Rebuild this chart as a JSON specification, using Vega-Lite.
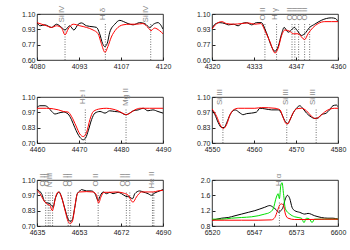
{
"$schema":"https://vega.github.io/schema/vega-lite/v6.json",
"padding":{"left":20,"top":5,"right":0,"bottom":0},
"background":"white",
"config":{
 "view":{"stroke":"black","strokeWidth":0.8},
 "axis":{"grid":false,"title":null,"labelFont":"Liberation Sans","labelFontSize":7,"labelColor":"#222","domain":false,"tickColor":"#222","tickSize":-3,"labelPadding":5,"labelFlush":false,"labelOverlap":false,"labelBound":false,"tickCount":4},
 "text":{"font":"Liberation Sans","fontSize":8,"color":"#888"}
},
"datasets":{
"p1":[
{"w":4080,"f":1.006,"s":"b"},{"w":4081,"f":0.972,"s":"b"},{"w":4082.5,"f":0.982,"s":"b"},{"w":4084.6,"f":0.954,"s":"b"},{"w":4086.2,"f":0.989,"s":"b"},{"w":4087.8,"f":0.954,"s":"b"},{"w":4088.9,"f":0.926,"s":"b"},{"w":4090.4,"f":0.972,"s":"b"},{"w":4091.7,"f":0.926,"s":"b"},{"w":4093.1,"f":0.989,"s":"b"},{"w":4094.1,"f":1.003,"s":"b"},{"w":4095.7,"f":0.972,"s":"b"},{"w":4097.8,"f":0.961,"s":"b"},{"w":4098.9,"f":0.954,"s":"b"},{"w":4099.9,"f":0.885,"s":"b"},{"w":4100.8,"f":0.781,"s":"b"},{"w":4101.5,"f":0.746,"s":"b"},{"w":4102.3,"f":0.781,"s":"b"},{"w":4103.1,"f":0.902,"s":"b"},{"w":4104.7,"f":0.989,"s":"b"},{"w":4106.3,"f":1.031,"s":"b"},{"w":4107.5,"f":1.017,"s":"b"},{"w":4108.9,"f":0.996,"s":"b"},{"w":4110.5,"f":0.982,"s":"b"},{"w":4112.6,"f":1.006,"s":"b"},{"w":4114.2,"f":0.996,"s":"b"},{"w":4115.8,"f":0.954,"s":"b"},{"w":4117,"f":0.989,"s":"b"},{"w":4118.4,"f":1.006,"s":"b"},{"w":4120,"f":0.937,"s":"b"},
{"w":4080,"f":1.006,"s":"r"},{"w":4081.5,"f":0.989,"s":"r"},{"w":4083,"f":0.972,"s":"r"},{"w":4084.6,"f":0.954,"s":"r"},{"w":4086.2,"f":0.972,"s":"r"},{"w":4087.8,"f":0.947,"s":"r"},{"w":4088.9,"f":0.874,"s":"r"},{"w":4089.9,"f":0.937,"s":"r"},{"w":4091.5,"f":0.989,"s":"r"},{"w":4093.6,"f":0.972,"s":"r"},{"w":4095.7,"f":0.954,"s":"r"},{"w":4097.8,"f":0.926,"s":"r"},{"w":4099.4,"f":0.885,"s":"r"},{"w":4100.4,"f":0.781,"s":"r"},{"w":4101.6,"f":0.683,"s":"r"},{"w":4102.5,"f":0.746,"s":"r"},{"w":4103.6,"f":0.85,"s":"r"},{"w":4105.2,"f":0.937,"s":"r"},{"w":4107.3,"f":0.982,"s":"r"},{"w":4109.4,"f":0.989,"s":"r"},{"w":4111.5,"f":0.989,"s":"r"},{"w":4113.6,"f":0.996,"s":"r"},{"w":4115.2,"f":0.954,"s":"r"},{"w":4116.2,"f":0.919,"s":"r"},{"w":4117.3,"f":0.947,"s":"r"},{"w":4118.9,"f":0.919,"s":"r"},{"w":4120,"f":0.885,"s":"r"}
],
"p2":[
{"w":4320,"f":0.937,"s":"b"},{"w":4320.95,"f":0.989,"s":"b"},{"w":4322.5,"f":1.006,"s":"b"},{"w":4324.1,"f":0.996,"s":"b"},{"w":4325.2,"f":0.982,"s":"b"},{"w":4326.8,"f":0.989,"s":"b"},{"w":4328.3,"f":0.972,"s":"b"},{"w":4329.4,"f":0.996,"s":"b"},{"w":4331,"f":1.006,"s":"b"},{"w":4332.6,"f":0.982,"s":"b"},{"w":4334.1,"f":1.006,"s":"b"},{"w":4335.7,"f":1.006,"s":"b"},{"w":4336.8,"f":0.937,"s":"b"},{"w":4337.8,"f":0.85,"s":"b"},{"w":4338.9,"f":0.746,"s":"b"},{"w":4340,"f":0.694,"s":"b"},{"w":4341,"f":0.746,"s":"b"},{"w":4342.1,"f":0.885,"s":"b"},{"w":4342.9,"f":0.954,"s":"b"},{"w":4344.2,"f":0.902,"s":"b"},{"w":4345.2,"f":0.926,"s":"b"},{"w":4346.1,"f":0.954,"s":"b"},{"w":4347.1,"f":0.919,"s":"b"},{"w":4348.4,"f":0.867,"s":"b"},{"w":4349.4,"f":0.885,"s":"b"},{"w":4351,"f":0.954,"s":"b"},{"w":4352.6,"f":0.989,"s":"b"},{"w":4354.7,"f":1.031,"s":"b"},{"w":4356.3,"f":1.051,"s":"b"},{"w":4357.9,"f":1.058,"s":"b"},{"w":4359.2,"f":1.051,"s":"b"},{"w":4360,"f":1.017,"s":"b"},
{"w":4320,"f":0.937,"s":"r"},{"w":4321.5,"f":0.996,"s":"r"},{"w":4323.1,"f":1.017,"s":"r"},{"w":4324.6,"f":0.996,"s":"r"},{"w":4326.8,"f":0.989,"s":"r"},{"w":4329.4,"f":0.996,"s":"r"},{"w":4331.5,"f":1.003,"s":"r"},{"w":4333.6,"f":0.989,"s":"r"},{"w":4335.5,"f":0.996,"s":"r"},{"w":4336.8,"f":0.919,"s":"r"},{"w":4338.4,"f":0.798,"s":"r"},{"w":4340,"f":0.676,"s":"r"},{"w":4341,"f":0.728,"s":"r"},{"w":4342.1,"f":0.867,"s":"r"},{"w":4343.1,"f":0.926,"s":"r"},{"w":4344.7,"f":0.912,"s":"r"},{"w":4345.8,"f":0.885,"s":"r"},{"w":4347.3,"f":0.885,"s":"r"},{"w":4349.4,"f":0.822,"s":"r"},{"w":4350.5,"f":0.885,"s":"r"},{"w":4352.1,"f":0.954,"s":"r"},{"w":4353.7,"f":0.996,"s":"r"},{"w":4355.8,"f":1.017,"s":"r"},{"w":4357.9,"f":1.017,"s":"r"},{"w":4360,"f":1.017,"s":"r"}
],
"p3":[
{"w":4460,"f":1.008,"s":"b"},{"w":4460.7,"f":1.024,"s":"b"},{"w":4461.9,"f":1.024,"s":"b"},{"w":4462.7,"f":1.008,"s":"b"},{"w":4463.5,"f":0.974,"s":"b"},{"w":4464.3,"f":0.952,"s":"b"},{"w":4465.1,"f":0.96,"s":"b"},{"w":4466.3,"f":0.969,"s":"b"},{"w":4467.4,"f":0.952,"s":"b"},{"w":4468.2,"f":0.904,"s":"b"},{"w":4469,"f":0.834,"s":"b"},{"w":4470.2,"f":0.75,"s":"b"},{"w":4471,"f":0.728,"s":"b"},{"w":4471.6,"f":0.745,"s":"b"},{"w":4472.2,"f":0.806,"s":"b"},{"w":4473,"f":0.904,"s":"b"},{"w":4473.8,"f":0.96,"s":"b"},{"w":4475,"f":0.974,"s":"b"},{"w":4476.2,"f":0.96,"s":"b"},{"w":4477.3,"f":0.98,"s":"b"},{"w":4478.5,"f":0.974,"s":"b"},{"w":4479.7,"f":0.969,"s":"b"},{"w":4481.1,"f":0.946,"s":"b"},{"w":4482.1,"f":0.96,"s":"b"},{"w":4482.9,"f":0.98,"s":"b"},{"w":4484.1,"f":0.988,"s":"b"},{"w":4485.3,"f":1.002,"s":"b"},{"w":4486.4,"f":0.98,"s":"b"},{"w":4487.6,"f":0.988,"s":"b"},{"w":4488.8,"f":0.974,"s":"b"},{"w":4490,"f":0.96,"s":"b"},
{"w":4460,"f":1.002,"s":"r"},{"w":4462.3,"f":1.002,"s":"r"},{"w":4463.9,"f":0.997,"s":"r"},{"w":4465.1,"f":0.988,"s":"r"},{"w":4466.3,"f":0.974,"s":"r"},{"w":4467.4,"f":0.969,"s":"r"},{"w":4468.2,"f":0.932,"s":"r"},{"w":4469.3,"f":0.848,"s":"r"},{"w":4470.2,"f":0.778,"s":"r"},{"w":4471,"f":0.756,"s":"r"},{"w":4471.8,"f":0.792,"s":"r"},{"w":4472.6,"f":0.904,"s":"r"},{"w":4473.4,"f":0.974,"s":"r"},{"w":4475,"f":0.997,"s":"r"},{"w":4476.5,"f":1.002,"s":"r"},{"w":4478.1,"f":0.994,"s":"r"},{"w":4479.3,"f":0.98,"s":"r"},{"w":4480.5,"f":0.957,"s":"r"},{"w":4481.3,"f":0.946,"s":"r"},{"w":4482.1,"f":0.96,"s":"r"},{"w":4483.3,"f":0.988,"s":"r"},{"w":4484.5,"f":1.002,"s":"r"},{"w":4486.8,"f":1.002,"s":"r"},{"w":4490,"f":1.002,"s":"r"}
],
"p4":[
{"w":4550,"f":0.988,"s":"b"},{"w":4550.7,"f":0.946,"s":"b"},{"w":4551.5,"f":0.876,"s":"b"},{"w":4552.3,"f":0.834,"s":"b"},{"w":4552.9,"f":0.834,"s":"b"},{"w":4553.5,"f":0.876,"s":"b"},{"w":4554.3,"f":0.946,"s":"b"},{"w":4555.5,"f":0.988,"s":"b"},{"w":4556.7,"f":0.96,"s":"b"},{"w":4557.4,"f":0.946,"s":"b"},{"w":4558.2,"f":0.955,"s":"b"},{"w":4559.4,"f":0.96,"s":"b"},{"w":4560.6,"f":0.969,"s":"b"},{"w":4561.4,"f":1.002,"s":"b"},{"w":4562.6,"f":0.997,"s":"b"},{"w":4564.2,"f":0.988,"s":"b"},{"w":4565.8,"f":0.988,"s":"b"},{"w":4566.5,"f":0.96,"s":"b"},{"w":4567.3,"f":0.896,"s":"b"},{"w":4568,"f":0.868,"s":"b"},{"w":4568.5,"f":0.896,"s":"b"},{"w":4569.3,"f":0.96,"s":"b"},{"w":4570.1,"f":1.002,"s":"b"},{"w":4570.9,"f":1.024,"s":"b"},{"w":4571.7,"f":0.997,"s":"b"},{"w":4572.5,"f":0.96,"s":"b"},{"w":4573.7,"f":0.924,"s":"b"},{"w":4574.5,"f":0.913,"s":"b"},{"w":4575.3,"f":0.918,"s":"b"},{"w":4576,"f":0.946,"s":"b"},{"w":4577.2,"f":0.96,"s":"b"},{"w":4578,"f":0.988,"s":"b"},{"w":4578.8,"f":1.024,"s":"b"},{"w":4579.6,"f":1.03,"s":"b"},{"w":4580,"f":1.016,"s":"b"},
{"w":4550,"f":0.997,"s":"r"},{"w":4551.1,"f":0.932,"s":"r"},{"w":4551.9,"f":0.862,"s":"r"},{"w":4552.7,"f":0.826,"s":"r"},{"w":4553.5,"f":0.862,"s":"r"},{"w":4554.3,"f":0.946,"s":"r"},{"w":4555.1,"f":0.988,"s":"r"},{"w":4556.3,"f":1.002,"s":"r"},{"w":4557.8,"f":1.002,"s":"r"},{"w":4560.2,"f":1.002,"s":"r"},{"w":4561.8,"f":1.008,"s":"r"},{"w":4565,"f":1.002,"s":"r"},{"w":4566.2,"f":0.988,"s":"r"},{"w":4566.9,"f":0.924,"s":"r"},{"w":4567.7,"f":0.868,"s":"r"},{"w":4568.1,"f":0.868,"s":"r"},{"w":4568.5,"f":0.896,"s":"r"},{"w":4569.3,"f":0.96,"s":"r"},{"w":4570.1,"f":0.997,"s":"r"},{"w":4571.3,"f":1.002,"s":"r"},{"w":4572.5,"f":0.98,"s":"r"},{"w":4573.7,"f":0.932,"s":"r"},{"w":4574.6,"f":0.913,"s":"r"},{"w":4575.7,"f":0.932,"s":"r"},{"w":4576.8,"f":0.969,"s":"r"},{"w":4578,"f":0.994,"s":"r"},{"w":4579.2,"f":1.002,"s":"r"},{"w":4580,"f":1.002,"s":"r"}
],
"p5":[
{"w":4635,"f":1.017,"s":"b"},{"w":4636,"f":1.005,"s":"b"},{"w":4637,"f":0.981,"s":"b"},{"w":4638.5,"f":0.907,"s":"b"},{"w":4639.9,"f":0.899,"s":"b"},{"w":4640.7,"f":0.893,"s":"b"},{"w":4641.4,"f":0.878,"s":"b"},{"w":4642.1,"f":0.863,"s":"b"},{"w":4642.8,"f":0.928,"s":"b"},{"w":4643.9,"f":0.981,"s":"b"},{"w":4644.7,"f":0.996,"s":"b"},{"w":4645.7,"f":0.952,"s":"b"},{"w":4647.2,"f":0.848,"s":"b"},{"w":4648.6,"f":0.759,"s":"b"},{"w":4649.7,"f":0.739,"s":"b"},{"w":4650.5,"f":0.759,"s":"b"},{"w":4651.5,"f":0.863,"s":"b"},{"w":4652.6,"f":0.981,"s":"b"},{"w":4653.7,"f":1.005,"s":"b"},{"w":4654.4,"f":1.017,"s":"b"},{"w":4656.6,"f":1.005,"s":"b"},{"w":4658.8,"f":1.005,"s":"b"},{"w":4660.3,"f":0.981,"s":"b"},{"w":4661.7,"f":0.922,"s":"b"},{"w":4662.7,"f":0.967,"s":"b"},{"w":4663.9,"f":0.996,"s":"b"},{"w":4665.3,"f":0.981,"s":"b"},{"w":4666.8,"f":0.993,"s":"b"},{"w":4668.2,"f":0.981,"s":"b"},{"w":4670.4,"f":0.993,"s":"b"},{"w":4671.9,"f":0.981,"s":"b"},{"w":4673.8,"f":0.958,"s":"b"},{"w":4675.5,"f":0.952,"s":"b"},{"w":4676.7,"f":0.937,"s":"b"},{"w":4677.7,"f":0.981,"s":"b"},{"w":4679.8,"f":1.005,"s":"b"},{"w":4681.3,"f":0.996,"s":"b"},{"w":4683.5,"f":0.981,"s":"b"},{"w":4684.9,"f":0.967,"s":"b"},{"w":4686.4,"f":0.987,"s":"b"},{"w":4688.6,"f":1.005,"s":"b"},{"w":4690,"f":1.017,"s":"b"},
{"w":4635,"f":1.011,"s":"r"},{"w":4636.3,"f":0.981,"s":"r"},{"w":4637.8,"f":0.928,"s":"r"},{"w":4639.2,"f":0.893,"s":"r"},{"w":4640.7,"f":0.878,"s":"r"},{"w":4641.7,"f":0.833,"s":"r"},{"w":4642.5,"f":0.893,"s":"r"},{"w":4643.6,"f":0.981,"s":"r"},{"w":4644.3,"f":0.996,"s":"r"},{"w":4645.7,"f":0.952,"s":"r"},{"w":4647.2,"f":0.839,"s":"r"},{"w":4648.6,"f":0.739,"s":"r"},{"w":4649.5,"f":0.721,"s":"r"},{"w":4650.5,"f":0.744,"s":"r"},{"w":4651.5,"f":0.863,"s":"r"},{"w":4652.6,"f":0.981,"s":"r"},{"w":4653.7,"f":0.996,"s":"r"},{"w":4656.6,"f":0.999,"s":"r"},{"w":4659.5,"f":0.996,"s":"r"},{"w":4661,"f":0.967,"s":"r"},{"w":4661.9,"f":0.899,"s":"r"},{"w":4662.9,"f":0.952,"s":"r"},{"w":4664.2,"f":0.993,"s":"r"},{"w":4666.8,"f":0.993,"s":"r"},{"w":4669.7,"f":0.996,"s":"r"},{"w":4672.6,"f":0.987,"s":"r"},{"w":4674.8,"f":0.967,"s":"r"},{"w":4676.9,"f":0.907,"s":"r"},{"w":4678.4,"f":0.952,"s":"r"},{"w":4680.6,"f":0.996,"s":"r"},{"w":4683.5,"f":0.996,"s":"r"},{"w":4685.7,"f":0.996,"s":"r"},{"w":4687.8,"f":1.005,"s":"r"},{"w":4690,"f":1.011,"s":"r"}
],
"p6":[
{"w":6520,"f":0.951,"s":"b"},{"w":6523,"f":0.978,"s":"b"},{"w":6526.1,"f":1.004,"s":"b"},{"w":6530.3,"f":1.022,"s":"b"},{"w":6534.6,"f":1.067,"s":"b"},{"w":6538.8,"f":1.111,"s":"b"},{"w":6543,"f":1.156,"s":"b"},{"w":6547.2,"f":1.2,"s":"b"},{"w":6550.4,"f":1.244,"s":"b"},{"w":6553.5,"f":1.289,"s":"b"},{"w":6556.7,"f":1.333,"s":"b"},{"w":6558.8,"f":1.289,"s":"b"},{"w":6560.9,"f":1.218,"s":"b"},{"w":6562.4,"f":1.156,"s":"b"},{"w":6563.7,"f":1.2,"s":"b"},{"w":6565.1,"f":1.289,"s":"b"},{"w":6566.6,"f":1.511,"s":"b"},{"w":6567.9,"f":1.6,"s":"b"},{"w":6569.4,"f":1.511,"s":"b"},{"w":6570.8,"f":1.289,"s":"b"},{"w":6572.5,"f":1.2,"s":"b"},{"w":6575.7,"f":1.156,"s":"b"},{"w":6578.9,"f":1.111,"s":"b"},{"w":6581,"f":1.129,"s":"b"},{"w":6585.2,"f":1.067,"s":"b"},{"w":6589.4,"f":1.022,"s":"b"},{"w":6593.6,"f":1.004,"s":"b"},{"w":6596.8,"f":1.004,"s":"b"},{"w":6600,"f":0.978,"s":"b"},
{"w":6520,"f":0.978,"s":"g"},{"w":6526.1,"f":0.978,"s":"g"},{"w":6532.4,"f":1.004,"s":"g"},{"w":6538.8,"f":1.022,"s":"g"},{"w":6545.1,"f":1.04,"s":"g"},{"w":6549.3,"f":1.067,"s":"g"},{"w":6553.5,"f":1.111,"s":"g"},{"w":6556.7,"f":1.156,"s":"g"},{"w":6558.8,"f":1.244,"s":"g"},{"w":6560.9,"f":1.556,"s":"g"},{"w":6562,"f":1.644,"s":"g"},{"w":6562.8,"f":1.511,"s":"g"},{"w":6563.7,"f":1.867,"s":"g"},{"w":6564.5,"f":1.929,"s":"g"},{"w":6565.4,"f":1.644,"s":"g"},{"w":6566.6,"f":1.244,"s":"g"},{"w":6569.4,"f":1.111,"s":"g"},{"w":6572.5,"f":1.04,"s":"g"},{"w":6576.8,"f":1.004,"s":"g"},{"w":6578.4,"f":0.889,"s":"g"},{"w":6579.9,"f":1.004,"s":"g"},{"w":6582,"f":0.978,"s":"g"},{"w":6583.5,"f":0.889,"s":"g"},{"w":6585.2,"f":0.978,"s":"g"},{"w":6589.4,"f":0.978,"s":"g"},{"w":6595.7,"f":0.978,"s":"g"},{"w":6600,"f":0.978,"s":"g"},
{"w":6520,"f":0.951,"s":"r"},{"w":6528.2,"f":0.951,"s":"r"},{"w":6538.8,"f":0.951,"s":"r"},{"w":6549.3,"f":0.951,"s":"r"},{"w":6557.8,"f":0.96,"s":"r"},{"w":6559.9,"f":1.022,"s":"r"},{"w":6561.6,"f":1.2,"s":"r"},{"w":6562.8,"f":1.333,"s":"r"},{"w":6564.1,"f":1.378,"s":"r"},{"w":6565.4,"f":1.333,"s":"r"},{"w":6566.6,"f":1.111,"s":"r"},{"w":6568.3,"f":1.004,"s":"r"},{"w":6572.5,"f":0.969,"s":"r"},{"w":6581,"f":0.969,"s":"r"},{"w":6591.5,"f":0.978,"s":"r"},{"w":6600,"f":0.978,"s":"r"}
],
"r1":[{"w":4088.9},{"w":4101.7},{"w":4116.1}],
"t1":[{"w":4087.8,"t":"Si IV"},{"w":4101,"t":"H δ"},{"w":4114.7,"t":"Si IV"}],
"r2":[{"w":4336.8},{"w":4340.5},{"w":4345.4},{"w":4346.3},{"w":4347.5},{"w":4349.4},{"w":4351}],
"t2":[{"w":4336.3,"t":"O II"},{"w":4340,"t":"H γ"},{"w":4344.8,"t":"O II"},{"w":4346.3,"t":"O II"},{"w":4347.9,"t":"O II"},{"w":4349.5,"t":"O II"}],
"r3":[{"w":4471.5},{"w":4481.2}],
"t3":[{"w":4471,"t":"He I"},{"w":4481.1,"t":"Mg II"}],
"r4":[{"w":4552.6},{"w":4567.8},{"w":4574.8}],
"t4":[{"w":4551.9,"t":"Si III"},{"w":4567.6,"t":"Si III"},{"w":4574.1,"t":"Si III"}],
"r5":[{"w":4638.8},{"w":4639.9},{"w":4640.7},{"w":4641.8},{"w":4648.6},{"w":4649.7},{"w":4661.7},{"w":4674},{"w":4675.5},{"w":4685.4},{"w":4686}],
"t5":[{"w":4637.5,"t":"O II"},{"w":4639.2,"t":"O II"},{"w":4640.6,"t":"N III"},{"w":4647.7,"t":"O II"},{"w":4649.4,"t":"O II"},{"w":4660.8,"t":"O II"},{"w":4672.7,"t":"O II"},{"w":4674.9,"t":"O II"},{"w":4685,"t":"He II"}],
"r6":[{"w":6562.8}],
"t6":[{"w":6562.4,"t":"H α"}]
},
"columns":2,
"bounds":"flush",
"spacing":{"row":37,"column":49},
"concat":[
{"width":126,"height":46,"layer":[
 {"data":{"name":"r1"},"mark":{"type":"rule","strokeDash":[1,1.5],"color":"#333","strokeWidth":0.7},"encoding":{"x":{"field":"w","type":"quantitative","scale":{"domain":[4080,4120],"nice":false,"zero":false},"axis":{"values":[4080,4093.333,4106.667,4120],"format":".0f","tickCount":4}},"y":{"datum":0.6,"type":"quantitative","scale":{"domain":[0.6,1.1],"nice":false,"zero":false},"axis":{"values":[0.6,0.7667,0.9333,1.1],"format":".2f","tickCount":4}},"y2":{"datum":1.0}}},
 {"mark":{"type":"rule","strokeDash":[1,1.5],"color":"#666","strokeWidth":0.7},"encoding":{"y":{"datum":1.0,"type":"quantitative"}}},
 {"data":{"name":"p1"},"mark":{"type":"line","interpolate":"monotone","strokeWidth":1,"clip":true},"encoding":{"x":{"field":"w","type":"quantitative"},"y":{"field":"f","type":"quantitative"},"color":{"field":"s","type":"nominal","scale":{"domain":["b","g","r"],"range":["black","#00e000","red"]},"legend":null}}},
 {"data":{"name":"t1"},"mark":{"type":"text","angle":270,"align":"center","baseline":"middle"},"encoding":{"x":{"field":"w","type":"quantitative"},"y":{"datum":1.1,"type":"quantitative"},"text":{"field":"t"}}}
]},
{"width":126,"height":46,"layer":[
 {"data":{"name":"r2"},"mark":{"type":"rule","strokeDash":[1,1.5],"color":"#333","strokeWidth":0.7},"encoding":{"x":{"field":"w","type":"quantitative","scale":{"domain":[4320,4360],"nice":false,"zero":false},"axis":{"values":[4320,4333.333,4346.667,4360],"format":".0f","tickCount":4}},"y":{"datum":0.6,"type":"quantitative","scale":{"domain":[0.6,1.1],"nice":false,"zero":false},"axis":{"values":[0.6,0.7667,0.9333,1.1],"format":".2f","tickCount":4}},"y2":{"datum":1.0}}},
 {"mark":{"type":"rule","strokeDash":[1,1.5],"color":"#666","strokeWidth":0.7},"encoding":{"y":{"datum":1.0,"type":"quantitative"}}},
 {"data":{"name":"p2"},"mark":{"type":"line","interpolate":"monotone","strokeWidth":1,"clip":true},"encoding":{"x":{"field":"w","type":"quantitative"},"y":{"field":"f","type":"quantitative"},"color":{"field":"s","type":"nominal","scale":{"domain":["b","g","r"],"range":["black","#00e000","red"]},"legend":null}}},
 {"data":{"name":"t2"},"mark":{"type":"text","angle":270,"align":"center","baseline":"middle"},"encoding":{"x":{"field":"w","type":"quantitative"},"y":{"datum":1.1,"type":"quantitative"},"text":{"field":"t"}}}
]},
{"width":126,"height":46,"layer":[
 {"data":{"name":"r3"},"mark":{"type":"rule","strokeDash":[1,1.5],"color":"#333","strokeWidth":0.7},"encoding":{"x":{"field":"w","type":"quantitative","scale":{"domain":[4460,4490],"nice":false,"zero":false},"axis":{"values":[4460,4470,4480,4490],"format":".0f","tickCount":4}},"y":{"datum":0.7,"type":"quantitative","scale":{"domain":[0.7,1.1],"nice":false,"zero":false},"axis":{"values":[0.7,0.8333,0.9667,1.1],"format":".2f","tickCount":4}},"y2":{"datum":1.0}}},
 {"mark":{"type":"rule","strokeDash":[1,1.5],"color":"#666","strokeWidth":0.7},"encoding":{"y":{"datum":1.0,"type":"quantitative"}}},
 {"data":{"name":"p3"},"mark":{"type":"line","interpolate":"monotone","strokeWidth":1,"clip":true},"encoding":{"x":{"field":"w","type":"quantitative"},"y":{"field":"f","type":"quantitative"},"color":{"field":"s","type":"nominal","scale":{"domain":["b","g","r"],"range":["black","#00e000","red"]},"legend":null}}},
 {"data":{"name":"t3"},"mark":{"type":"text","angle":270,"align":"center","baseline":"middle"},"encoding":{"x":{"field":"w","type":"quantitative"},"y":{"datum":1.1,"type":"quantitative"},"text":{"field":"t"}}}
]},
{"width":126,"height":46,"layer":[
 {"data":{"name":"r4"},"mark":{"type":"rule","strokeDash":[1,1.5],"color":"#333","strokeWidth":0.7},"encoding":{"x":{"field":"w","type":"quantitative","scale":{"domain":[4550,4580],"nice":false,"zero":false},"axis":{"values":[4550,4560,4570,4580],"format":".0f","tickCount":4}},"y":{"datum":0.7,"type":"quantitative","scale":{"domain":[0.7,1.1],"nice":false,"zero":false},"axis":{"values":[0.7,0.8333,0.9667,1.1],"format":".2f","tickCount":4}},"y2":{"datum":1.0}}},
 {"mark":{"type":"rule","strokeDash":[1,1.5],"color":"#666","strokeWidth":0.7},"encoding":{"y":{"datum":1.0,"type":"quantitative"}}},
 {"data":{"name":"p4"},"mark":{"type":"line","interpolate":"monotone","strokeWidth":1,"clip":true},"encoding":{"x":{"field":"w","type":"quantitative"},"y":{"field":"f","type":"quantitative"},"color":{"field":"s","type":"nominal","scale":{"domain":["b","g","r"],"range":["black","#00e000","red"]},"legend":null}}},
 {"data":{"name":"t4"},"mark":{"type":"text","angle":270,"align":"center","baseline":"middle"},"encoding":{"x":{"field":"w","type":"quantitative"},"y":{"datum":1.1,"type":"quantitative"},"text":{"field":"t"}}}
]},
{"width":126,"height":46,"layer":[
 {"data":{"name":"r5"},"mark":{"type":"rule","strokeDash":[1,1.5],"color":"#333","strokeWidth":0.7},"encoding":{"x":{"field":"w","type":"quantitative","scale":{"domain":[4635,4690],"nice":false,"zero":false},"axis":{"values":[4635,4653.333,4671.667,4690],"format":".0f","tickCount":4}},"y":{"datum":0.7,"type":"quantitative","scale":{"domain":[0.7,1.1],"nice":false,"zero":false},"axis":{"values":[0.7,0.8333,0.9667,1.1],"format":".2f","tickCount":4}},"y2":{"datum":1.0}}},
 {"mark":{"type":"rule","strokeDash":[1,1.5],"color":"#666","strokeWidth":0.7},"encoding":{"y":{"datum":1.0,"type":"quantitative"}}},
 {"data":{"name":"p5"},"mark":{"type":"line","interpolate":"monotone","strokeWidth":1,"clip":true},"encoding":{"x":{"field":"w","type":"quantitative"},"y":{"field":"f","type":"quantitative"},"color":{"field":"s","type":"nominal","scale":{"domain":["b","g","r"],"range":["black","#00e000","red"]},"legend":null}}},
 {"data":{"name":"t5"},"mark":{"type":"text","angle":270,"align":"center","baseline":"middle"},"encoding":{"x":{"field":"w","type":"quantitative"},"y":{"datum":1.1,"type":"quantitative"},"text":{"field":"t"}}}
]},
{"width":126,"height":46,"layer":[
 {"data":{"name":"r6"},"mark":{"type":"rule","strokeDash":[1,1.5],"color":"#333","strokeWidth":0.7},"encoding":{"x":{"field":"w","type":"quantitative","scale":{"domain":[6520,6600],"nice":false,"zero":false},"axis":{"values":[6520,6546.667,6573.333,6600],"format":".0f","tickCount":4}},"y":{"datum":0.8,"type":"quantitative","scale":{"domain":[0.8,2.0],"nice":false,"zero":false},"axis":{"values":[0.8,1.2,1.6,2.0],"format":".1f","tickCount":4}},"y2":{"datum":1.45}}},
 {"mark":{"type":"rule","strokeDash":[1,1.5],"color":"#666","strokeWidth":0.7},"encoding":{"y":{"datum":1.0,"type":"quantitative"}}},
 {"data":{"name":"p6"},"mark":{"type":"line","interpolate":"monotone","strokeWidth":1,"clip":true},"encoding":{"x":{"field":"w","type":"quantitative"},"y":{"field":"f","type":"quantitative"},"color":{"field":"s","type":"nominal","scale":{"domain":["b","g","r"],"range":["black","#00e000","red"]},"legend":null}}},
 {"data":{"name":"t6"},"mark":{"type":"text","angle":270,"align":"center","baseline":"middle"},"encoding":{"x":{"field":"w","type":"quantitative"},"y":{"datum":2.0,"type":"quantitative"},"text":{"field":"t"}}}
]}
]
}
